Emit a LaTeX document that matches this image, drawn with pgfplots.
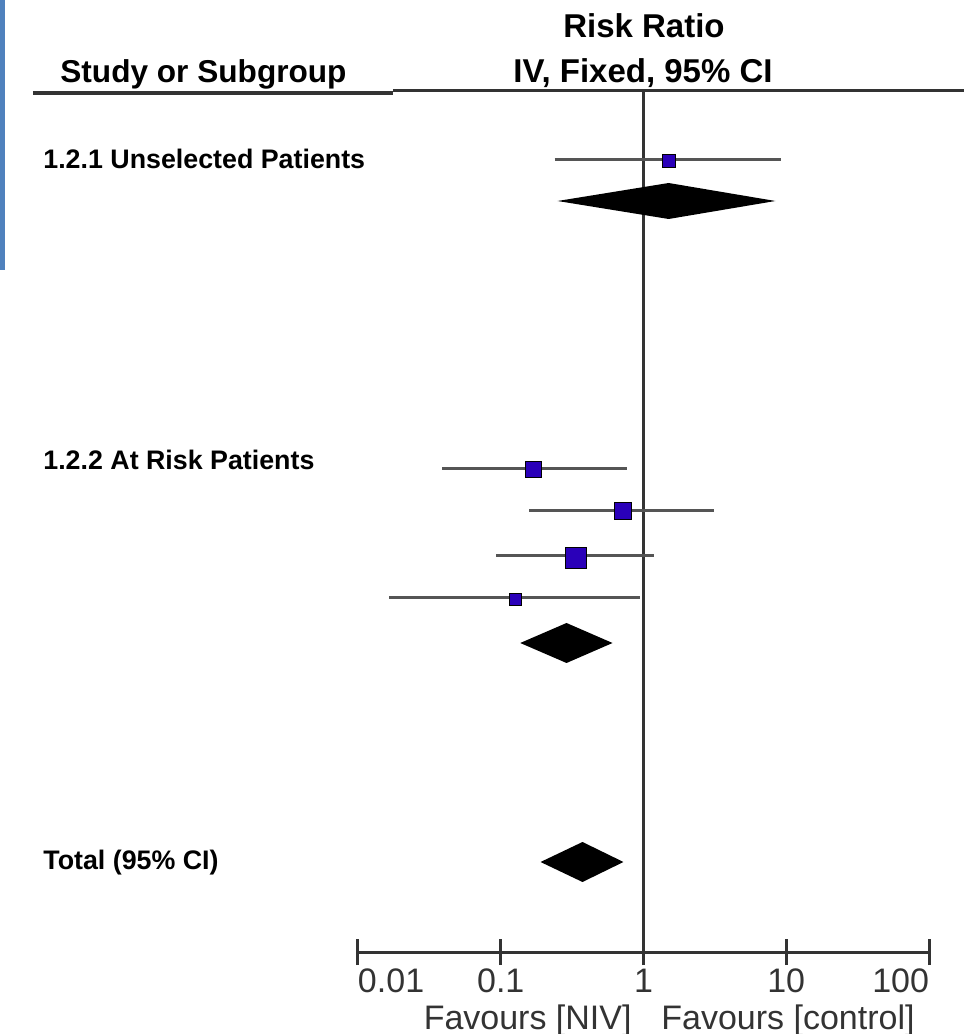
\documentclass[border=0pt]{standalone}
\usepackage{fontspec}
\setmainfont{Liberation Sans}
\usepackage{pgfplots}
\pgfplotsset{compat=1.18}
\definecolor{sqblue}{RGB}{42,0,185}
\definecolor{ciline}{RGB}{85,85,85}
\definecolor{axgray}{RGB}{51,51,51}
\definecolor{edgeblue}{RGB}{79,129,189}

\begin{document}
\begin{tikzpicture}
\useasboundingbox (-179pt,-41pt) rectangle (303pt,476pt);
% y = pixels above the scale line
\begin{axis}[
  at={(0,0)}, anchor=south west,
  scale only axis, width=285.5pt, height=476pt,
  xmode=log, xmin=0.01, xmax=100,
  ymin=0, ymax=952,
  axis x line=bottom, axis y line=none,
  x axis line style={-, axgray, line width=1.5pt},
  xtick={0.01,0.1,1,10,100},
  xminorticks=false,
  xticklabels={\makebox[0pt][l]{0.01},0.1,1,10,\makebox[0pt][r]{100}},
  major tick length=13pt, tick align=center,
  tick style={axgray, line width=1.5pt},
  xticklabel style={font=\fontsize{17}{20}\selectfont, text=axgray, yshift=1.5pt},
  clip=false,
]
\draw[axgray, line width=1.4pt] (axis cs:1,0) -- (axis cs:1,860);

% 1.2.1 Unselected Patients
\addplot[ciline, line width=1.5pt] coordinates {(0.238,792) (9.12,792)};
\addplot[only marks, mark=square*, mark size=3.25pt, mark options={fill=sqblue, draw=none}] coordinates {(1.50,791)};
\addplot[fill=black, draw=none] coordinates {(0.25,751) (1.50,769) (8.4,751) (1.50,733)} -- cycle;

% 1.2.2 At Risk Patients
\addplot[ciline, line width=1.5pt] coordinates {(0.039,483) (0.77,483)};
\addplot[only marks, mark=square*, mark size=4pt, mark options={fill=sqblue, draw=none}] coordinates {(0.168,483)};
\addplot[ciline, line width=1.5pt] coordinates {(0.159,441) (3.14,441)};
\addplot[only marks, mark=square*, mark size=4.25pt, mark options={fill=sqblue, draw=none}] coordinates {(0.718,441)};
\addplot[ciline, line width=1.5pt] coordinates {(0.093,396) (1.19,396)};
\addplot[only marks, mark=square*, mark size=5.25pt, mark options={fill=sqblue, draw=none}] coordinates {(0.337,394)};
\addplot[ciline, line width=1.5pt] coordinates {(0.0166,354) (0.95,354)};
\addplot[only marks, mark=square*, mark size=3pt, mark options={fill=sqblue, draw=none}] coordinates {(0.126,353)};
\addplot[fill=black, draw=none] coordinates {(0.137,309) (0.289,329) (0.607,309) (0.289,289)} -- cycle;

% Total
\addplot[fill=black, draw=none] coordinates {(0.19,90) (0.374,110) (0.724,90) (0.374,70)} -- cycle;
\end{axis}

\begin{scope}[x=0.5pt,y=-0.5pt,shift={(-358,-952)}]
\fill[edgeblue] (0,0) rectangle (5,270);
\draw[axgray, line width=1.8pt] (33,93) -- (393,93);
\draw[axgray, line width=1.5pt] (393,91) -- (964,91);
\node[anchor=base, inner sep=0, font=\bfseries\fontsize{16.5}{20}\selectfont] at (644,38) {Risk Ratio};
\node[anchor=base, inner sep=0, font=\bfseries\fontsize{16.5}{20}\selectfont] at (643,83) {IV, Fixed, 95\% CI};
\node[anchor=base west, inner sep=0, font=\bfseries\fontsize{15.8}{19}\selectfont] at (60,83) {Study or Subgroup};
\node[anchor=base west, inner sep=0, font=\bfseries\fontsize{13.4}{16}\selectfont] at (43,169) {1.2.1 Unselected Patients};
\node[anchor=base west, inner sep=0, font=\bfseries\fontsize{13.4}{16}\selectfont] at (43,470) {1.2.2 At Risk Patients};
\node[anchor=base west, inner sep=0, font=\bfseries\fontsize{13.4}{16}\selectfont] at (43,869) {Total (95\% CI)};
\node[anchor=base east, inner sep=0, text=axgray, font=\fontsize{17}{20}\selectfont] at (632,1029) {Favours [NIV]};
\node[anchor=base west, inner sep=0, text=axgray, font=\fontsize{17}{20}\selectfont] at (661,1029) {Favours [control]};
\end{scope}
\end{tikzpicture}
\end{document}
